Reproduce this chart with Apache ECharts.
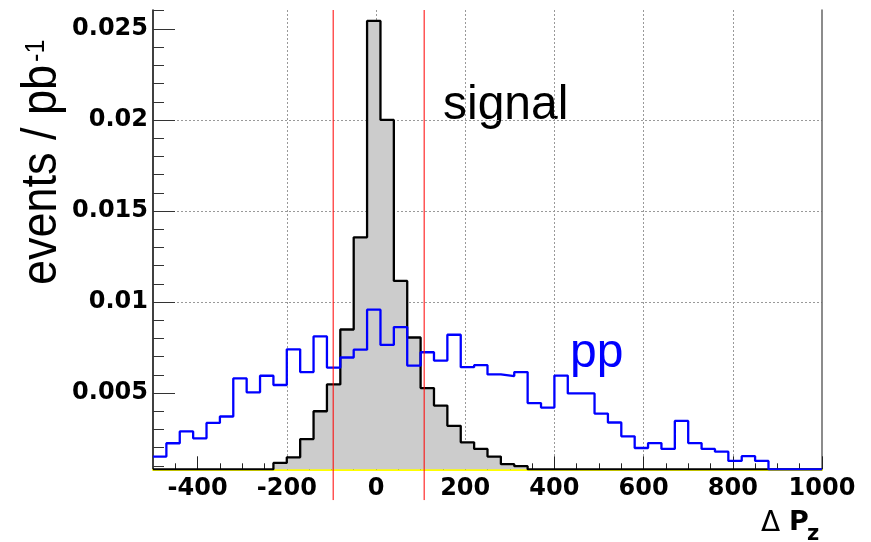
<!DOCTYPE html>
<html>
<head>
    <meta charset="UTF-8">
    <title></title>
    <script type="text/javascript" src="https://cdn.jsdelivr.net/npm/echarts@6/dist/echarts.min.js"></script>
</head>
<body style="margin:0">
<div id="main" style="width:871px;height:542px"></div>
<script type="text/javascript">
    // histogram bins: 50 bins of 30 starting at -500
    var binStart = -500;
    var binWidth = 30;

    var signal = [
        0, 0, 0, 0, 0, 0, 0, 0, 0, 0.00116,
        0.00147, 0.00247, 0.0040, 0.00547, 0.00849, 0.01355, 0.02544, 0.0200, 0.01116, 0.00805,
        0.00527, 0.00431, 0.0032, 0.00229, 0.00193, 0.00151, 0.00109, 0.00098, 0, 0,
        0, 0, 0, 0, 0, 0, 0, 0, 0, 0,
        0, 0, 0, 0, 0, 0, 0, 0, 0, 0
    ];
    var pp = [
        0.00151, 0.00224, 0.00289, 0.00251, 0.00336, 0.00371, 0.0058, 0.00504, 0.00595, 0.00544,
        0.0074, 0.00615, 0.00811, 0.0064, 0.00695, 0.00738, 0.00958, 0.00764, 0.00862, 0.00651,
        0.00724, 0.00678, 0.0082, 0.00642, 0.00653, 0.00602, 0.00593, 0.00615, 0.00445, 0.0042,
        0.00596, 0.00498, 0.00498, 0.00387, 0.00338, 0.00262, 0.00198, 0.00225, 0.00193, 0.00347,
        0.00225, 0.00193, 0.00178, 0.00127, 0.00153, 0.00127, 0, 0, 0, 0
    ];
    var cutLines = [-96, 108];

    var xTicks = [-400, -200, 0, 200, 400, 600, 800, 1000];
    var yTicks = [0.005, 0.01, 0.015, 0.02, 0.025];

    var xMin = -500, xMax = 1000;
    var yMin = 0.00081, yMax = 0.02604;
    var cutLow = -0.00088;

    // minor ticks
    var xMinor = [];
    for (var v = -450; v < 1000; v += 50) {
        if (v % 200 !== 0) xMinor.push(v);
    }
    var yMinor = [];
    for (var k = 1; k <= 26; k++) {
        if (k % 5 !== 0) yMinor.push(+(k * 0.001).toFixed(3));
    }

    // ROOT draws empty bins on the frame edge
    function toSteps(vals) {
        var pts = [];
        for (var i = 0; i < vals.length; i++) {
            pts.push([binStart + i * binWidth, Math.max(vals[i], yMin)]);
        }
        pts.push([binStart + vals.length * binWidth, Math.max(vals[vals.length - 1], yMin)]);
        return pts;
    }

    var labelFont = {
        color: '#000',
        fontFamily: 'DejaVu Sans',
        fontWeight: 'bold',
        fontSize: 24,
        formatter: function (val) { return String(val); }
    };

    var series = [
        {
            name: 'signal',
            type: 'line',
            step: 'end',
            symbol: 'none',
            data: toSteps(signal),
            lineStyle: {color: '#000', width: 2.3},
            areaStyle: {color: '#cccccc', opacity: 1, origin: 'start'},
            z: 2
        },
        {
            name: 'pp',
            type: 'line',
            step: 'end',
            symbol: 'none',
            data: toSteps(pp),
            lineStyle: {color: '#0000ff', width: 2.3},
            z: 3
        }
    ];
    cutLines.forEach(function (c) {
        series.push({
            type: 'line',
            symbol: 'none',
            clip: false,
            data: [[c, cutLow], [c, yMax]],
            lineStyle: {color: '#ff0000', width: 1},
            z: 4
        });
    });

    function textEl(x, y, text, font, color, extra) {
        var el = {
            type: 'text', x: x, y: y,
            style: {text: text, font: font, fill: color,
                align: 'left', textAlign: 'left', verticalAlign: 'middle', textVerticalAlign: 'middle'}
        };
        return Object.assign(el, extra || {});
    }

    var myChart = echarts.init(document.getElementById('main'));
    var option = {
        animation: false,
        grid: {left: 153, right: 49, top: 10, bottom: 72.7},
        xAxis: [
            {
                type: 'value',
                min: xMin,
                max: xMax,
                splitNumber: 7,
                position: 'bottom',
                axisLine: {show: true, onZero: false, lineStyle: {color: '#ffff00', width: 2}},
                axisTick: {show: true, inside: true, length: 13, customValues: xTicks, lineStyle: {color: '#222'}},
                axisLabel: Object.assign({customValues: xTicks, margin: 7}, labelFont),
                splitLine: {show: true, showMinLine: false, showMaxLine: false, lineStyle: {type: [2, 2], color: '#999'}}
            },
            {
                type: 'value',
                min: xMin,
                max: xMax,
                position: 'bottom',
                axisLine: {show: false, onZero: false},
                axisTick: {show: true, inside: true, length: 6, customValues: xMinor, lineStyle: {color: '#222'}},
                axisLabel: {show: false},
                splitLine: {show: false}
            }
        ],
        yAxis: [
            {
                type: 'value',
                min: yMin,
                max: yMax,
                splitNumber: 5,
                position: 'left',
                axisLine: {show: true, onZero: false, lineStyle: {color: '#000', width: 1.5}},
                axisTick: {show: true, inside: true, length: 22, customValues: yTicks, lineStyle: {color: '#333'}},
                axisLabel: Object.assign({customValues: yTicks, margin: 5}, labelFont),
                splitLine: {show: true, showMinLine: false, showMaxLine: false, lineStyle: {type: [2, 2], color: '#999'}}
            },
            {
                type: 'value',
                min: yMin,
                max: yMax,
                position: 'right',
                axisLine: {show: true, onZero: false, lineStyle: {color: '#666', width: 1.5}},
                axisTick: {show: false},
                axisLabel: {show: false},
                splitLine: {show: false}
            },
            {
                type: 'value',
                min: yMin,
                max: yMax,
                position: 'left',
                axisLine: {show: false, onZero: false},
                axisTick: {show: true, inside: true, length: 11, customValues: yMinor, lineStyle: {color: '#333'}},
                axisLabel: {show: false},
                splitLine: {show: false}
            }
        ],
        graphic: [
            textEl(443, 105.4, 'signal', '48px "Liberation Sans"', '#000'),
            textEl(570, 353.4, 'pp', '48px "Liberation Sans"', '#0000ff'),
            textEl(42.7, 285, 'events / pb', '50px "Liberation Sans"', '#000', {rotation: Math.PI / 2, scaleX: 0.9}),
            textEl(36, 62, '-1', '28px "Liberation Sans"', '#000', {rotation: Math.PI / 2, scaleX: 0.9}),
            textEl(761, 524, 'Δ', '28px "DejaVu Sans"', '#000'),
            textEl(789, 523, 'P', 'bold 27px "DejaVu Sans"', '#000'),
            textEl(807, 535, 'z', 'bold 21px "DejaVu Sans"', '#000')
        ],
        series: series
    };
    myChart.setOption(option);
</script>
</body>
</html>
